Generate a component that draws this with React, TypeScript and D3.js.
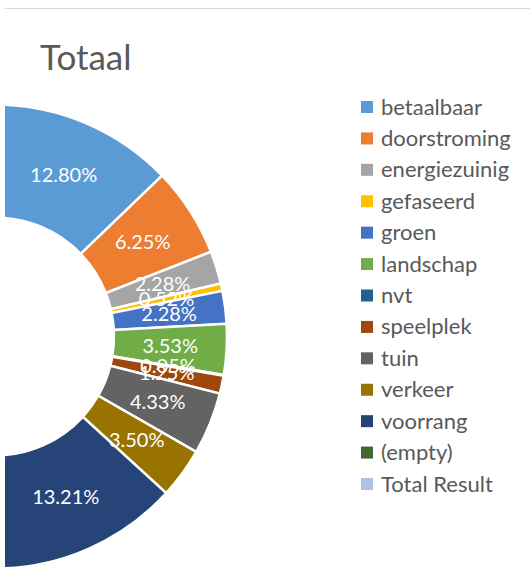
import React from 'react'
import * as d3 from 'd3'

const CATEGORIES = [
  'betaalbaar', 'doorstroming', 'energiezuinig', 'gefaseerd', 'groen', 'landschap',
  'nvt', 'speelplek', 'tuin', 'verkeer', 'voorrang', '(empty)', 'Total Result'
]
const SHARES = [12.80, 6.25, 2.28, 0.52, 2.28, 3.53, 0.05, 1.25, 4.33, 3.50, 13.21, 0, 50.00]
const COLORS = [
  '#5b9bd5', '#ed7d31', '#a5a5a5', '#ffc000', '#4472c4', '#70ad47',
  '#255e91', '#9e480e', '#636363', '#997300', '#264478', '#43682b', '#a9c4e6'
]
const TITLE = 'Totaal'

const WIDTH = 530
const HEIGHT = 578
const FONT = 'Lato, Carlito, Calibri, sans-serif'
const CLIP_X = 5

type Slice = { name: string, value: number, color: string }

const App = () => {
  const data: Slice[] = CATEGORIES.map((name, i) => ({ name, value: SHARES[i], color: COLORS[i] }))

  const cx = -5
  const cy = 336.5
  const outerRadius = 232
  const innerRadius = 119
  const labelRadius = (outerRadius + innerRadius) / 2

  const pie = d3.pie<Slice>()
    .sort(null)
    .value(d => d.value)
    .startAngle(0)
    .endAngle(2 * Math.PI)

  const arc = d3.arc<d3.PieArcDatum<Slice>>()
    .innerRadius(innerRadius)
    .outerRadius(outerRadius)

  const labelArc = d3.arc<d3.PieArcDatum<Slice>>()
    .innerRadius(labelRadius)
    .outerRadius(labelRadius)

  const arcs = pie(data)
  const fmt = d3.format('.2f')

  // labels that sit left of the plot edge are hidden in the original, skip them
  const labels = arcs
    .filter(a => a.data.value > 0)
    .map(a => ({ a, c: labelArc.centroid(a) }))
    .filter(({ c }) => c[0] + cx > CLIP_X)

  const legendY = d3.scaleLinear()
    .domain([0, CATEGORIES.length - 1])
    .range([107, 484])

  return (
    <div style={{ position: 'absolute', left: 0, top: 0 }}>
      <svg width={WIDTH} height={HEIGHT} style={{ display: 'block', fontFamily: FONT }}>
        <defs>
          <clipPath id="plot-clip">
            <rect x={CLIP_X} y={9} width={WIDTH - CLIP_X} height={HEIGHT - 9} />
          </clipPath>
        </defs>
        <rect x={0} y={0} width={WIDTH} height={HEIGHT} fill="#fff" />
        <line x1={CLIP_X} x2={WIDTH} y1={8.5} y2={8.5} stroke="#d9d9d9" strokeWidth={1} />

        <text x={40} y={70} fontSize={35} fill="#595959">{TITLE}</text>

        <g clipPath="url(#plot-clip)">
          <g transform={`translate(${cx},${cy})`}>
            {arcs.map((a, i) => (
              <path
                key={i}
                d={arc(a) || ''}
                fill={a.data.color}
                stroke="#fff"
                strokeWidth={2.5}
              />
            ))}
            {labels.map(({ a, c }, i) => (
              <text
                key={i}
                x={c[0]}
                y={c[1]}
                dy="0.35em"
                textAnchor="middle"
                fontSize={20}
                fill="#fff"
              >
                {`${fmt(a.data.value)}%`}
              </text>
            ))}
          </g>
        </g>

        <g>
          {data.map((d, i) => (
            <g key={d.name} transform={`translate(0,${legendY(i)})`}>
              <rect x={361} y={-6} width={12} height={12} fill={d.color} />
              <text x={381} y={7.5} fontSize={22} fill="#595959">{d.name}</text>
            </g>
          ))}
        </g>
      </svg>
    </div>
  )
}

export default App
